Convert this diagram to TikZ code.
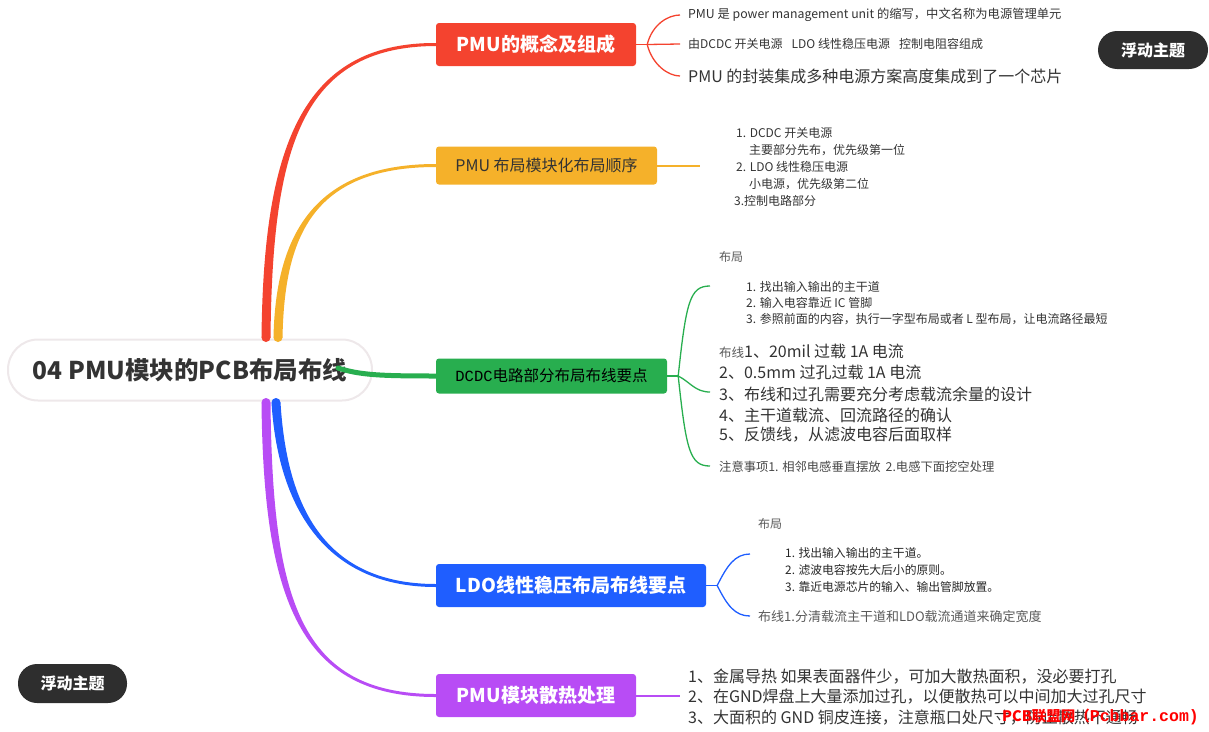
\documentclass[tikz,border=0pt]{standalone}
\usepackage{fontspec}
\setmainfont{Noto Sans CJK SC}
\newfontfamily\monofont{Liberation Mono}
\usetikzlibrary{calc}
\definecolor{cred}{HTML}{F4432F}
\definecolor{corange}{HTML}{F5B12A}
\definecolor{cgreen}{HTML}{28AE4F}
\definecolor{cblue}{HTML}{1F5EFF}
\definecolor{cpurple}{HTML}{B84CF5}
\definecolor{cdark}{HTML}{2E2E2E}
\definecolor{ctxt}{HTML}{333333}
\definecolor{clabel}{HTML}{595959}
\definecolor{cborder}{HTML}{EEE8EA}
\begin{document}
\begin{tikzpicture}[x=1pt,y=-1pt,
  topbox/.style={rounded corners=3pt, inner sep=0pt},
  boldtop/.style={topbox, text=white, font=\bfseries\fontsize{19}{22}\selectfont},
  ctext/.style={anchor=west, inner sep=0pt, text=ctxt},
  lbl/.style={anchor=west, inner sep=0pt, text=clabel, font=\fontsize{12}{14}\selectfont},
  thinlink/.style={line width=1.3pt},
  floating/.style={rounded corners=19pt, fill=cdark, text=white, inner sep=0pt, font=\bfseries\fontsize{16}{18}\selectfont}
]
\useasboundingbox (0,0) rectangle (1209,731);

% ---------- central topic
\node[draw=cborder, line width=2pt, fill=white, rounded corners=30pt, minimum width=364pt, minimum height=61pt, inner sep=0pt,
      text=ctxt, font=\bfseries\fontsize{24.5}{28}\selectfont] (root) at (190,370) {04 PMU模块的PCB布局布线};

% ---------- main topics
\node[boldtop, fill=cred, minimum width=200pt, minimum height=43pt] (pmu1) at (536,44.5) {PMU的概念及组成};
\node[topbox, fill=corange, text=ctxt, minimum width=221pt, minimum height=38pt, font=\fontsize{16}{18}\selectfont] (pmu2) at (546.5,165.5) {PMU 布局模块化布局顺序};
\node[topbox, fill=cgreen, text=black, minimum width=231pt, minimum height=35pt, font=\fontsize{15.5}{18}\selectfont] (dcdc) at (551.5,376) {{\monofont DCDC}电路部分布局布线要点};
\node[boldtop, fill=cblue, minimum width=270pt, minimum height=43pt] (ldo) at (571,585.5) {LDO线性稳压布局布线要点};
\node[boldtop, fill=cpurple, minimum width=200pt, minimum height=43pt] (heat) at (536,695.5) {PMU模块散热处理};

% ---------- tapered main branches
\coordinate (rS) at ([xshift=76pt,yshift=1pt]root.north);
\coordinate (oS) at ([xshift=88pt,yshift=1pt]root.north);
\coordinate (bS) at ([xshift=86pt,yshift=-1pt]root.south);
\coordinate (pS) at ([xshift=76pt,yshift=-1pt]root.south);

\fill[cred] ($(rS)+(-4.5,0)$) .. controls (263.5,150) and (300,42.5) .. ($(pmu1.west)+(0,-1.5)$)
  -- ($(pmu1.west)+(0,1.5)$) .. controls (300,46.5) and (272.5,150) .. ($(rS)+(4.5,0)$) -- cycle;
\fill[cred] (rS) circle[radius=4.5];

\fill[corange] ($(oS)+(-4.5,0)$) .. controls (275.5,240) and (310,164) .. ($(pmu2.west)+(0,-1.5)$)
  -- ($(pmu2.west)+(0,1.5)$) .. controls (310,167) and (284.5,240) .. ($(oS)+(4.5,0)$) -- cycle;
\fill[corange] (oS) circle[radius=4.5];

\fill[cblue] ($(bS)+(-4.5,0)$) .. controls (277.5,500) and (320,587) .. ($(ldo.west)+(0,1.5)$)
  -- ($(ldo.west)+(0,-1.5)$) .. controls (320,584) and (286.5,500) .. ($(bS)+(4.5,0)$) -- cycle;
\fill[cblue] (bS) circle[radius=4.5];

\fill[cpurple] ($(pS)+(-4.5,0)$) .. controls (263.5,600) and (300,697) .. ($(heat.west)+(0,1.5)$)
  -- ($(heat.west)+(0,-1.5)$) .. controls (300,694) and (272.5,600) .. ($(pS)+(4.5,0)$) -- cycle;
\fill[cpurple] (pS) circle[radius=4.5];

\draw[cgreen, line width=5pt, line cap=round] ([xshift=-35pt,yshift=2pt]root.east) .. controls (360,375) and (380,376) .. (dcdc.west);

% ---------- floating topics
\node[floating, minimum width=110pt, minimum height=38pt] (float1) at (1153,50) {浮动主题};
\node[floating, minimum width=109pt, minimum height=39pt] (float2) at (72.5,683.5) {浮动主题};

% ---------- red children
\node[ctext, font=\fontsize{12.3}{14}\selectfont] (r1) at (688,15) {PMU 是 power management unit 的缩写，中文名称为电源管理单元};
\node[ctext, font=\fontsize{12}{14}\selectfont] (r2) at (688,44) {由DCDC 开关电源\hspace{9pt}LDO 线性稳压电源\hspace{9pt}控制电阻容组成};
\node[ctext, font=\fontsize{16}{18}\selectfont] (r3) at (688,76) {PMU 的封装集成多种电源方案高度集成到了一个芯片};
\coordinate (rf) at ([xshift=11pt]pmu1.east);
\coordinate (re1) at ([xshift=-8pt]r1.west);
\coordinate (re2) at ([xshift=-8pt]r2.west);
\coordinate (re3) at ([xshift=-8pt]r3.west);
\draw[cred, thinlink] (pmu1.east) -- (rf);
\draw[cred, thinlink] (rf) .. controls +(5,-20) and +(-12,0) .. (re1);
\draw[cred, thinlink] (rf) -- (re2);
\draw[cred, thinlink] (rf) .. controls +(5,20) and +(-12,0) .. (re3);

% ---------- orange child
\coordinate (oe) at (700,165.5);
\draw[corange, line width=2pt] (pmu2.east) -- (oe);
\node[ctext, font=\fontsize{12}{14}\selectfont] (o1) at (736,133) {1. DCDC 开关电源};
\node[ctext, font=\fontsize{12}{14}\selectfont] (o2) at (749,150) {主要部分先布，优先级第一位};
\node[ctext, font=\fontsize{12}{14}\selectfont] (o3) at (736,167) {2. LDO 线性稳压电源};
\node[ctext, font=\fontsize{12}{14}\selectfont] (o4) at (749,184) {小电源，优先级第二位};
\node[ctext, font=\fontsize{12}{14}\selectfont] (o5) at (734,201) {3.控制电路部分};

% ---------- green children
\node[lbl] (gl) at (719,257) {布局};
\node[ctext, font=\fontsize{12}{14}\selectfont] (g1) at (746,287) {1. 找出输入输出的主干道};
\node[ctext, font=\fontsize{12}{14}\selectfont] (g2) at (746,303) {2. 输入电容靠近 IC 管脚};
\node[ctext, font=\fontsize{12}{14}\selectfont] (g3) at (746,319) {3. 参照前面的内容，执行一字型布局或者 L 型布局，让电流路径最短};
\node[ctext, font=\fontsize{16}{18}\selectfont] (m1) at (719,351) {{\color{clabel}\fontsize{12.5}{14}\selectfont 布线}1、20mil 过载 1A 电流};
\node[ctext, font=\fontsize{16}{18}\selectfont] (m2) at (719,372) {2、0.5mm 过孔过载 1A 电流};
\node[ctext, font=\fontsize{16}{18}\selectfont] (m3) at (719,394) {3、布线和过孔需要充分考虑载流余量的设计};
\node[ctext, font=\fontsize{16}{18}\selectfont] (m4) at (719,415) {4、主干道载流、回流路径的确认};
\node[ctext, font=\fontsize{16}{18}\selectfont] (m5) at (719,435) {5、反馈线，从滤波电容后面取样};
\node[ctext, text=clabel!80!black, font=\fontsize{12.3}{14}\selectfont] (gn) at (719,467) {注意事项1. 相邻电感垂直摆放\hspace{5pt}2.电感下面挖空处理};
\coordinate (gf) at ([xshift=11pt]dcdc.east);
\coordinate (ge1) at (710,286);
\coordinate (ge2) at (710,392);
\coordinate (ge3) at (710,466);
\draw[cgreen, thinlink] (dcdc.east) -- (gf);
\draw[cgreen, thinlink] (gf) .. controls +(8,-75) and +(-20,0) .. (ge1);
\draw[cgreen, thinlink] (gf) .. controls +(12,6) and +(-15,0) .. (ge2);
\draw[cgreen, thinlink] (gf) .. controls +(8,75) and +(-20,0) .. (ge3);

% ---------- blue children
\node[lbl] (bl) at (758,524) {布局};
\node[ctext, text=black!85, font=\fontsize{11.8}{13}\selectfont] (b1) at (785,553) {1. 找出输入输出的主干道。};
\node[ctext, text=black!85, font=\fontsize{11.8}{13}\selectfont] (b2) at (785,570) {2. 滤波电容按先大后小的原则。};
\node[ctext, text=black!85, font=\fontsize{11.8}{13}\selectfont] (b3) at (785,587) {3. 靠近电源芯片的输入、输出管脚放置。};
\node[lbl, font=\fontsize{13}{15}\selectfont] (bw) at (758,617) {布线1.分清载流主干道和LDO载流通道来确定宽度};
\coordinate (bf) at ([xshift=11pt]ldo.east);
\coordinate (be1) at (750,554);
\coordinate (be2) at (750,616);
\draw[cblue, thinlink] (ldo.east) -- (bf);
\draw[cblue, thinlink] (bf) .. controls +(10,-20) and +(-15,0) .. (be1);
\draw[cblue, thinlink] (bf) .. controls +(10,20) and +(-15,0) .. (be2);

% ---------- purple children
\coordinate (pe) at (680,695.5);
\draw[cpurple, line width=2pt] (heat.east) -- (pe);
\node[ctext, font=\fontsize{16}{18}\selectfont] (p1) at (688,677) {1、金属导热 如果表面器件少，可加大散热面积，没必要打孔};
\node[ctext, font=\fontsize{16}{18}\selectfont] (p2) at (688,697) {2、在GND焊盘上大量添加过孔，以便散热可以中间加大过孔尺寸};
\node[ctext, font=\fontsize{16}{18}\selectfont] (p3) at (688,718) {3、大面积的 GND 铜皮连接，注意瓶口处尺寸，防止散热不通畅};

% ---------- watermark
\node[anchor=west, inner sep=0pt, text=red, font=\bfseries\fontsize{14.5}{18}\selectfont] (wm) at (1002,717) {PCB联盟网（{\monofont\bfseries\fontsize{16.5}{18}\selectfont Pcbbar.com)}};
\end{tikzpicture}
\end{document}
